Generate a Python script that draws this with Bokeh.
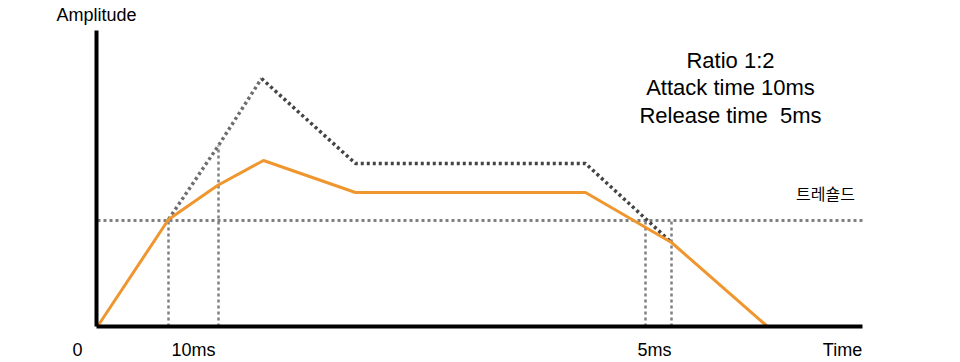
from bokeh.plotting import figure
from bokeh.models import Range1d, Label
from bokeh.embed import file_html
from bokeh.resources import INLINE

# Schematic units (1 unit ~ 1 px); origin at the axes corner
# Compressed output signal (orange)
out_t = [0, 71, 120, 166, 258, 488, 574, 670]
out_a = [0, 107, 141, 166, 134, 134, 84, 0]
# Original signal above threshold (dotted): attack rise and release part
rise_t = [71, 121, 164]
rise_a = [107, 181, 248]
fall_t = [164, 258, 488, 574]
fall_a = [248, 163, 163, 84]
# Threshold level
threshold = 106
# Time markers (vertical dotted guides)
marker_t = [71, 121, 548, 574]
marker_top = [107, 181, 106, 106]
# Axis extents
t_max = 765
a_max = 296

tick_labels = ["0", "10ms", "5ms", "Time"]
tick_pos = [-20, 96, 557, 745]
info_lines = ["Ratio 1:2", "Attack time 10ms", "Release time\u00a0 5ms"]
info_a = [266, 239, 211]

FONT = "Liberation Sans"

p = figure(width=960, height=362, output_backend="svg", toolbar_location=None,
           x_range=Range1d(-97, 863), y_range=Range1d(-36, 326),
           min_border=0, outline_line_color=None)
p.xaxis.visible = False
p.yaxis.visible = False
p.grid.visible = False
p.background_fill_color = "white"
p.border_fill_color = "white"

# threshold line
p.line([0, t_max], [threshold, threshold], line_color="#808080", line_width=3,
       line_dash="3 3")
# vertical guides
for t, top in zip(marker_t, marker_top):
    p.line([t, t], [0, top], line_color="#808080", line_width=2.5, line_dash="3 3")

# original signal dotted
p.line(rise_t, rise_a, line_color="#6e6e6e", line_width=3.5, line_dash="3 3")
p.line(fall_t, fall_a, line_color="#444444", line_width=3.5, line_dash="3 3")

# compressed signal
p.line(out_t, out_a, line_color="#F0962E", line_width=3)

# axes
p.line([-1, -1], [0, a_max], line_color="black", line_width=4)
p.line([-1, t_max], [0, 0], line_color="black", line_width=4)

# texts
p.add_layout(Label(x=-41, y=312, text="Amplitude", text_font=FONT, text_font_size="18px",
                   text_baseline="middle", text_align="left", text_color="black"))
for lab, pos in zip(tick_labels, tick_pos):
    p.add_layout(Label(x=pos, y=-23, text=lab, text_font=FONT, text_font_size="18px",
                       text_baseline="middle", text_align="center", text_color="black"))
for line, a in zip(info_lines, info_a):
    p.add_layout(Label(x=633, y=a, text=line, text_font=FONT, text_font_size="22px",
                       text_baseline="middle", text_align="center", text_color="black"))
p.add_layout(Label(x=728, y=134, text="트레숄드", text_font="Noto Sans CJK KR",
                   text_font_size="16px", text_baseline="middle", text_align="center",
                   text_color="black"))

open("out.html", "w").write(file_html(p, INLINE))
